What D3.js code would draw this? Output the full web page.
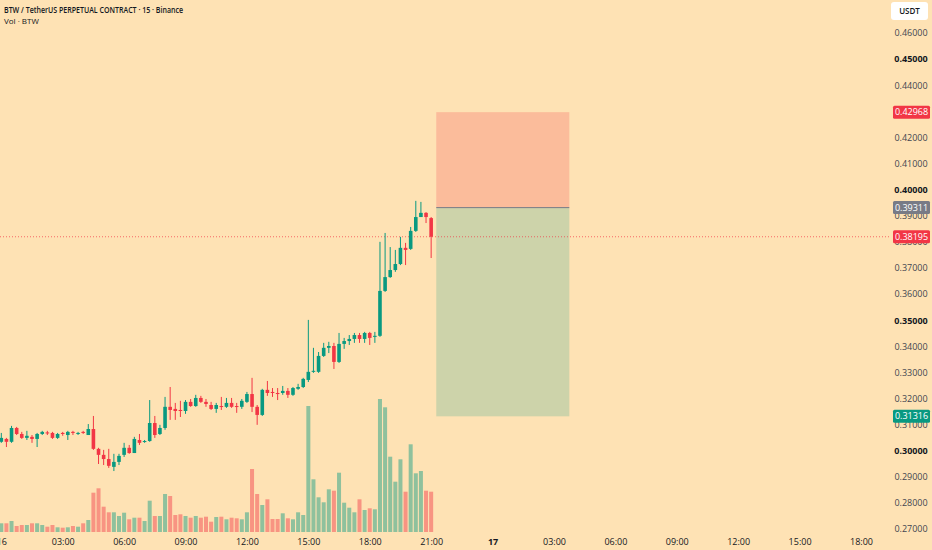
<!DOCTYPE html>
<html>
<head>
<meta charset="utf-8">
<script src="https://cdn.jsdelivr.net/npm/d3@7"></script>
<style>
  html, body { margin: 0; padding: 0; background: #fee2b4; overflow: hidden; }
  svg { display: block; font-family: "Open Sans", sans-serif; }
</style>
</head>
<body>
<div id="chart"></div>
<script>
// 15 minute candles, 16th 00:00 -> 21:00
const opens = [
  0.3034, 0.3045, 0.3034, 0.3087, 0.3064, 0.3049, 0.3053, 0.3045, 0.3064, 0.3070,
  0.3068, 0.3049, 0.3068, 0.3060, 0.3072, 0.3064, 0.3072, 0.3060, 0.3083, 0.3007,
  0.2984, 0.2968, 0.2938, 0.2957, 0.2984, 0.3011, 0.2991, 0.3041, 0.3034, 0.3037,
  0.3106, 0.3064, 0.3087, 0.3168, 0.3160, 0.3156, 0.3152, 0.3187, 0.3171, 0.3202,
  0.3187, 0.3175, 0.3160, 0.3171, 0.3168, 0.3183, 0.3171, 0.3168, 0.3187, 0.3217,
  0.3168, 0.3137, 0.3233, 0.3225, 0.3221, 0.3221, 0.3229, 0.3214, 0.3237, 0.3244,
  0.3271, 0.3302, 0.3302, 0.3363, 0.3394, 0.3401, 0.3340, 0.3409, 0.3420, 0.3428,
  0.3443, 0.3428, 0.3451, 0.3436, 0.3440, 0.3612, 0.3665, 0.3692, 0.3715, 0.3777,
  0.3773, 0.3842, 0.3895, 0.3911, 0.3891
];
const highs = [
  0.3068, 0.3049, 0.3095, 0.3091, 0.3072, 0.3076, 0.3060, 0.3068, 0.3076, 0.3076,
  0.3072, 0.3068, 0.3072, 0.3076, 0.3076, 0.3072, 0.3076, 0.3102, 0.3133, 0.3011,
  0.3003, 0.3007, 0.2988, 0.2988, 0.3030, 0.3022, 0.3053, 0.3064, 0.3041, 0.3194,
  0.3133, 0.3099, 0.3206, 0.3244, 0.3183, 0.3191, 0.3194, 0.3198, 0.3214, 0.3210,
  0.3198, 0.3187, 0.3183, 0.3206, 0.3202, 0.3202, 0.3183, 0.3198, 0.3225, 0.3279,
  0.3175, 0.3237, 0.3267, 0.3240, 0.3240, 0.3248, 0.3240, 0.3244, 0.3256, 0.3279,
  0.3501, 0.3394, 0.3378, 0.3413, 0.3417, 0.3413, 0.3451, 0.3432, 0.3443, 0.3451,
  0.3451, 0.3455, 0.3455, 0.3455, 0.3800, 0.3834, 0.3780, 0.3769, 0.3819, 0.3796,
  0.3857, 0.3957, 0.3953, 0.3914, 0.3895
];
const lows = [
  0.3030, 0.3014, 0.3030, 0.3060, 0.3045, 0.3041, 0.3030, 0.3014, 0.3060, 0.3060,
  0.3045, 0.3045, 0.3057, 0.3041, 0.3060, 0.3060, 0.3064, 0.3060, 0.3003, 0.2949,
  0.2945, 0.2934, 0.2922, 0.2945, 0.2976, 0.2988, 0.2991, 0.3022, 0.3030, 0.3034,
  0.3049, 0.3060, 0.3080, 0.3118, 0.3118, 0.3129, 0.3141, 0.3168, 0.3168, 0.3183,
  0.3168, 0.3156, 0.3145, 0.3156, 0.3164, 0.3164, 0.3145, 0.3160, 0.3183, 0.3148,
  0.3099, 0.3133, 0.3210, 0.3206, 0.3194, 0.3214, 0.3202, 0.3210, 0.3233, 0.3240,
  0.3263, 0.3298, 0.3298, 0.3359, 0.3374, 0.3313, 0.3336, 0.3390, 0.3405, 0.3413,
  0.3413, 0.3413, 0.3405, 0.3413, 0.3436, 0.3608, 0.3662, 0.3685, 0.3711, 0.3711,
  0.3769, 0.3838, 0.3895, 0.3872, 0.3738
];
const closes = [
  0.3049, 0.3034, 0.3087, 0.3064, 0.3049, 0.3057, 0.3045, 0.3064, 0.3072, 0.3066,
  0.3049, 0.3064, 0.3064, 0.3072, 0.3068, 0.3068, 0.3068, 0.3083, 0.3007, 0.2984,
  0.2968, 0.2942, 0.2957, 0.2980, 0.3011, 0.2991, 0.3045, 0.3030, 0.3037, 0.3106,
  0.3060, 0.3087, 0.3168, 0.3156, 0.3152, 0.3152, 0.3187, 0.3171, 0.3202, 0.3187,
  0.3179, 0.3160, 0.3175, 0.3168, 0.3183, 0.3168, 0.3168, 0.3191, 0.3217, 0.3168,
  0.3137, 0.3233, 0.3221, 0.3221, 0.3217, 0.3229, 0.3214, 0.3240, 0.3244, 0.3275,
  0.3302, 0.3306, 0.3363, 0.3394, 0.3401, 0.3340, 0.3409, 0.3420, 0.3428, 0.3443,
  0.3428, 0.3451, 0.3432, 0.3440, 0.3612, 0.3665, 0.3692, 0.3715, 0.3777, 0.3769,
  0.3842, 0.3895, 0.3911, 0.3895, 0.38195
];
// volume, thousands of BTW
const volumes = [
  87, 87, 110, 60, 70, 70, 87, 87, 70, 53,
  70, 47, 43, 47, 60, 53, 87, 120, 393, 437,
  253, 197, 197, 160, 193, 127, 143, 143, 110, 313,
  160, 160, 380, 360, 170, 177, 160, 143, 160, 143,
  153, 103, 150, 153, 127, 143, 137, 127, 197, 630,
  380, 270, 327, 130, 130, 187, 137, 127, 197, 170,
  1260, 527, 347, 297, 427, 413, 593, 293, 243, 197,
  327, 220, 237, 227, 1330, 1247, 753, 503, 727, 403,
  877, 587, 610, 413, 403
];

const priceTicks = [0.46, 0.45, 0.44, 0.43, 0.42, 0.41, 0.40, 0.39, 0.38, 0.37, 0.36,
  0.35, 0.34, 0.33, 0.32, 0.31, 0.30, 0.29, 0.28, 0.27];
const boldPrices = [0.45, 0.40, 0.35, 0.30];

// short position tool
const entryPrice = 0.39311;
const stopPrice = 0.42968;
const targetPrice = 0.31316;
const lastPrice = 0.38195;

const firstCandle = new Date(2025, 0, 16, 0, 0);
const axisEnd = new Date(2025, 0, 17, 18, 0);
const positionStart = new Date(2025, 0, 16, 21, 15);
const positionEnd = new Date(2025, 0, 17, 3, 45);
const timeTicks = d3.timeHour.every(3).range(firstCandle, d3.timeMinute.offset(axisEnd, 1));

const times = d3.timeMinute.every(15).range(firstCandle, d3.timeMinute.offset(firstCandle, 15 * opens.length));
const candles = times.map((t, i) => ({
  t: t, o: opens[i], h: highs[i], l: lows[i], c: closes[i], v: volumes[i]
}));

const W = 932, H = 550;
const green = "#089981", red = "#f23645";

const svg = d3.select("#chart").append("svg")
  .attr("width", W)
  .attr("height", H);

const x = d3.scaleTime()
  .domain([firstCandle, axisEnd])
  .range([1.3, 861]);
const y = d3.scaleLinear()
  .domain([0.27, 0.46])
  .range([529, 33]);
const yVol = d3.scaleLinear()
  .domain([0, 1330])
  .range([532, 399]);

const bodyW = 3.6, volW = 4;

// position box (drawn behind candles)
const x0 = x(positionStart), x1 = x(positionEnd);
svg.append("rect")
  .attr("x", x0).attr("width", x1 - x0)
  .attr("y", y(stopPrice)).attr("height", y(entryPrice) - y(stopPrice))
  .attr("fill", "rgba(242,54,69,0.22)");
svg.append("rect")
  .attr("x", x0).attr("width", x1 - x0)
  .attr("y", y(entryPrice)).attr("height", y(targetPrice) - y(entryPrice))
  .attr("fill", "rgba(8,153,129,0.2)");
svg.append("line")
  .attr("x1", x0).attr("x2", x1)
  .attr("y1", y(entryPrice)).attr("y2", y(entryPrice))
  .attr("stroke", "#787b86").attr("stroke-width", 1);

// volume bars
svg.append("g").selectAll("rect")
  .data(candles)
  .enter().append("rect")
  .attr("x", d => x(d.t) - volW / 2)
  .attr("width", volW)
  .attr("y", d => yVol(d.v))
  .attr("height", d => yVol(0) - yVol(d.v))
  .attr("fill", d => d.c >= d.o ? green : red)
  .attr("fill-opacity", 0.45);

// current price line
svg.append("line")
  .attr("x1", 0).attr("x2", 890)
  .attr("y1", y(lastPrice)).attr("y2", y(lastPrice))
  .attr("stroke", red).attr("stroke-opacity", 0.7)
  .attr("stroke-dasharray", "1,2");

// candles
const cg = svg.append("g").selectAll("g")
  .data(candles)
  .enter().append("g");
cg.append("line")
  .attr("x1", d => x(d.t)).attr("x2", d => x(d.t))
  .attr("y1", d => y(d.h)).attr("y2", d => y(d.l))
  .attr("stroke", d => d.c >= d.o ? green : red)
  .attr("stroke-width", 1);
cg.append("rect")
  .attr("x", d => x(d.t) - bodyW / 2)
  .attr("width", bodyW)
  .attr("y", d => y(Math.max(d.o, d.c)))
  .attr("height", d => Math.max(1, Math.abs(y(d.o) - y(d.c))))
  .attr("fill", d => d.c >= d.o ? green : red);

// time axis
const xAxis = svg.append("g")
  .attr("transform", "translate(0,536)")
  .call(d3.axisBottom(x).tickValues(timeTicks).tickSize(0)
    .tickFormat(d => d.getHours() === 0 ? d3.timeFormat("%-d")(d) : d3.timeFormat("%H:%M")(d)));
xAxis.select(".domain").remove();
xAxis.selectAll("text")
  .attr("font-size", 9)
  .attr("fill", "#131722")
  .attr("font-weight", d => d.getHours() === 0 && d.getDate() === 17 ? "bold" : "normal")
  .attr("font-family", "Open Sans");

// price axis
const yAxis = svg.append("g")
  .attr("transform", "translate(911,0)")
  .call(d3.axisRight(y).tickValues(priceTicks).tickSize(0).tickFormat(d3.format(".5f")));
yAxis.select(".domain").remove();
yAxis.selectAll("text")
  .attr("x", 0)
  .attr("text-anchor", "middle")
  .attr("font-size", 9)
  .attr("font-family", "Open Sans")
  .attr("fill", d => boldPrices.some(b => Math.abs(b - d) < 1e-9) ? "#131722" : "#434651")
  .attr("font-weight", d => boldPrices.some(b => Math.abs(b - d) < 1e-9) ? "bold" : "normal");

// price badges on the scale
const badges = [
  { p: stopPrice, bg: red },
  { p: entryPrice, bg: "#787b86" },
  { p: lastPrice, bg: red },
  { p: targetPrice, bg: green }
];
const bg = svg.append("g").selectAll("g")
  .data(badges)
  .enter().append("g")
  .attr("transform", d => "translate(893," + y(d.p) + ")");
bg.append("rect")
  .attr("x", 0).attr("y", -6.5)
  .attr("width", 37).attr("height", 13)
  .attr("rx", 1.5)
  .attr("fill", d => d.bg);
bg.append("text")
  .attr("x", 18.5).attr("y", 0)
  .attr("dy", "0.35em")
  .attr("text-anchor", "middle")
  .attr("font-size", 9)
  .attr("fill", "#ffffff")
  .text(d => d3.format(".5f")(d.p));

// currency box
svg.append("rect")
  .attr("x", 891).attr("y", 2)
  .attr("width", 37).attr("height", 18)
  .attr("rx", 3)
  .attr("fill", "#ffffff");
svg.append("text")
  .attr("x", 909.5).attr("y", 11)
  .attr("dy", "0.35em")
  .attr("text-anchor", "middle")
  .attr("font-size", 8)
  .attr("font-weight", 600)
  .attr("fill", "#131722")
  .text("USDT");

// legend text
svg.append("text")
  .attr("x", 4).attr("y", 13)
  .attr("font-size", 8)
  .attr("font-weight", 600)
  .attr("textLength", 179)
  .attr("lengthAdjust", "spacingAndGlyphs")
  .attr("fill", "#131722")
  .text("BTW / TetherUS PERPETUAL CONTRACT · 15 · Binance");
svg.append("text")
  .attr("x", 4).attr("y", 24)
  .attr("font-size", 8)
  .attr("fill", "#131722")
  .text("Vol · BTW");
</script>
</body>
</html>
